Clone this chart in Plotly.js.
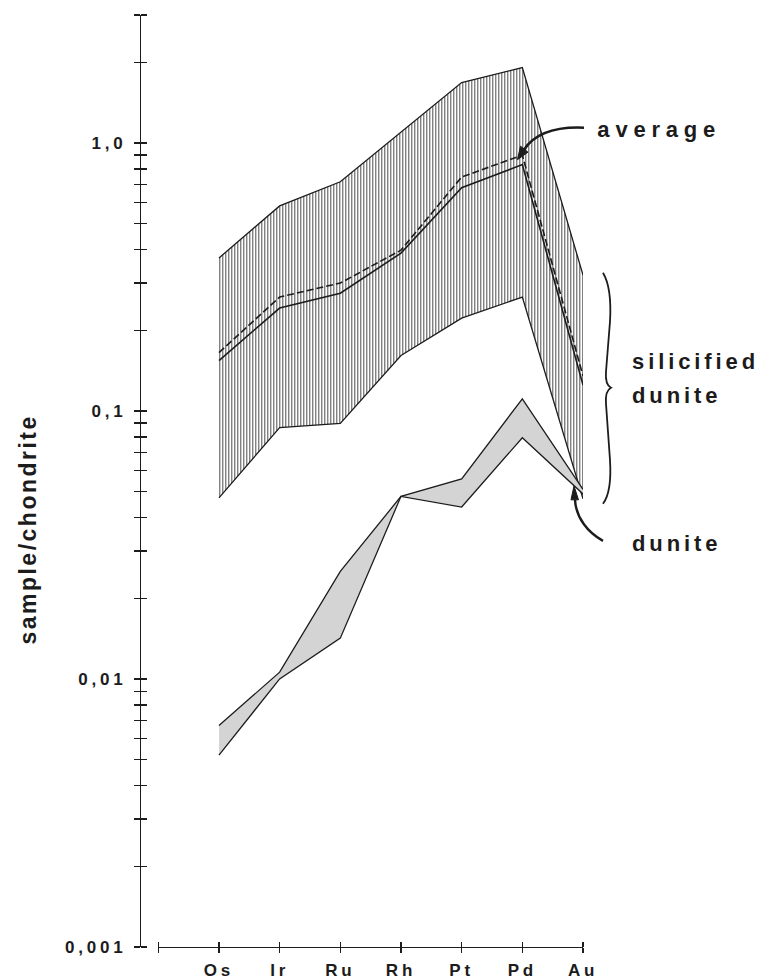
<!DOCTYPE html>
<html>
<head>
<meta charset="utf-8">
<script src="https://cdn.plot.ly/plotly-3.0.1.min.js"></script>
<style>
  body { margin: 0; background: #fff; }
  #chart { width: 759px; height: 980px; }
  .xtick text, .ytick text { letter-spacing: 3.8px; }
  .annotation-text { letter-spacing: 3.9px; }
  g.annotation[data-index="0"] .annotation-text { letter-spacing: 2.5px; }
  g.annotation[data-index="1"] .annotation-text { letter-spacing: 5.8px; }
</style>
</head>
<body>
<div id="chart"></div>
<script>
// PGE + Au chondrite-normalised patterns
const elements = ['Os', 'Ir', 'Ru', 'Rh', 'Pt', 'Pd', 'Au'];

// silicified dunite: envelope of all samples
const silicifiedMax = [0.372, 0.582, 0.716, 1.10, 1.68, 1.91, 0.321];
const silicifiedMin = [0.0474, 0.0867, 0.0898, 0.161, 0.222, 0.266, 0.047];

// silicified dunite: average patterns
const averageSolid = [0.154, 0.242, 0.275, 0.388, 0.68, 0.83, 0.125];
const averageDashed = [0.165, 0.266, 0.30, 0.398, 0.746, 0.90, 0.135];

// dunite envelope
const duniteMax = [0.0067, 0.0106, 0.0252, 0.048, 0.0558, 0.111, 0.051];
const duniteMin = [0.0052, 0.0100, 0.0142, 0.048, 0.0438, 0.0794, 0.049];

// axis ticks
const xTickVals = [-1, 0, 1, 2, 3, 4, 5, 6];
const xTickText = [''].concat(elements);
const yMajorVals = [0.001, 0.01, 0.1, 1];
const yMajorText = ['0,001', '0,01', '0,1', '1,0'];
const yMinorVals = [0.002, 0.003, 0.004, 0.005, 0.006, 0.007, 0.008, 0.009,
                    0.02, 0.03, 0.04, 0.05, 0.06, 0.07, 0.08, 0.09,
                    0.2, 0.3, 0.4, 0.5, 0.6, 0.7, 0.8, 0.9,
                    2, 3];

const xIdx = elements.map((_, i) => i);
const yTickVals = yMajorVals.concat(yMinorVals);
const yTickText = yMajorText.concat(yMinorVals.map(() => ''));

const ink = '#1c1c1c';
const FONT = 'Liberation Sans, Arial, Helvetica, sans-serif';

function band(upper, lower) {
  return {
    x: xIdx.concat(xIdx.slice().reverse()),
    y: upper.concat(lower.slice().reverse())
  };
}

const sil = band(silicifiedMax, silicifiedMin);
const dun = band(duniteMax, duniteMin);

const traces = [
  // hatched silicified dunite field
  { x: sil.x, y: sil.y, mode: 'lines', fill: 'toself', line: { width: 0 },
    fillcolor: '#ffffff',
    fillpattern: { shape: '|', size: 3, solidity: 0.33, fgcolor: '#4a4a4a', bgcolor: '#ffffff', fillmode: 'replace' },
    hoverinfo: 'skip' },
  { x: xIdx, y: silicifiedMax, mode: 'lines', line: { color: ink, width: 1.3 }, hoverinfo: 'skip' },
  { x: xIdx, y: silicifiedMin, mode: 'lines', line: { color: ink, width: 1.3 }, hoverinfo: 'skip' },

  // dunite field
  { x: dun.x, y: dun.y, mode: 'lines', fill: 'toself', line: { width: 0 },
    fillcolor: '#d4d4d4', xaxis: 'x2', yaxis: 'y2', hoverinfo: 'skip' },
  { x: xIdx, y: duniteMax, mode: 'lines', line: { color: ink, width: 1.3 }, xaxis: 'x2', yaxis: 'y2', hoverinfo: 'skip' },
  { x: xIdx, y: duniteMin, mode: 'lines', line: { color: ink, width: 1.3 }, xaxis: 'x2', yaxis: 'y2', hoverinfo: 'skip' },

  // average patterns
  { x: xIdx, y: averageSolid, mode: 'lines', line: { color: ink, width: 1.6 }, xaxis: 'x2', yaxis: 'y2', hoverinfo: 'skip' },
  { x: xIdx, y: averageDashed, mode: 'lines', line: { color: ink, width: 1.6, dash: '7px,3px' }, xaxis: 'x2', yaxis: 'y2', hoverinfo: 'skip' }
];

// pixel -> paper helpers for the hand-drawn labels, arrows and brace
const L = 140, R = 583, T = 15.4, B = 947;
const px = x => (x - L) / (R - L);
const py = y => (B - y) / (B - T);
const P = (x, y) => px(x).toFixed(4) + ',' + py(y).toFixed(4);

const yRange = [-3, Math.log10(3)];
const tickFont = { family: FONT, size: 17, color: ink, weight: 'bold' };
const labelFont = { family: FONT, size: 22, color: ink, weight: 'bold' };

const layout = {
  width: 759, height: 980,
  margin: { l: L, r: 759 - R, t: T, b: 980 - B, pad: 0 },
  paper_bgcolor: '#ffffff', plot_bgcolor: 'rgba(0,0,0,0)',
  showlegend: false,
  xaxis: {
    domain: [px(158.3), 1], range: [-1, 6],
    tickmode: 'array', tickvals: xTickVals, ticktext: xTickText,
    ticks: 'outside', ticklen: 5, tickwidth: 1.4, tickcolor: ink,
    showline: true, linecolor: ink, linewidth: 1.4,
    showgrid: false, zeroline: false, tickfont: { family: FONT, size: 17, color: ink, weight: 'bold' },
    ticklabelstandoff: 2, fixedrange: true
  },
  // upward half of the crossing x ticks
  xaxis2: {
    overlaying: 'x', side: 'top', anchor: 'free', position: 0, range: [-1, 6],
    tickmode: 'array', tickvals: xTickVals,
    ticks: 'outside', ticklen: 5, tickwidth: 1.4, tickcolor: ink,
    showticklabels: false, showline: false, showgrid: false, zeroline: false, fixedrange: true
  },
  yaxis: {
    type: 'log', range: yRange, anchor: 'free', position: 0,
    tickmode: 'array', tickvals: yTickVals, ticktext: yTickText,
    ticks: 'outside', ticklen: 6, tickwidth: 1.4, tickcolor: ink,
    showline: true, linecolor: ink, linewidth: 1.4,
    showgrid: false, zeroline: false, tickfont: tickFont,
    ticklabelstandoff: 4, fixedrange: true
  },
  // rightward half of the crossing y ticks
  yaxis2: {
    type: 'log', range: yRange, overlaying: 'y', side: 'right', anchor: 'free', position: 0,
    tickmode: 'array', tickvals: yTickVals,
    ticks: 'outside', ticklen: 6, tickwidth: 1.4, tickcolor: ink,
    showticklabels: false, showline: false, showgrid: false, zeroline: false, fixedrange: true
  },
  annotations: [
    { text: 'sample/chondrite', textangle: -90, xref: 'paper', yref: 'paper',
      x: px(28), y: py(530), xanchor: 'center', yanchor: 'middle', showarrow: false,
      font: { family: FONT, size: 23, color: ink, weight: 'bold' } },
    { text: 'average', xref: 'paper', yref: 'paper', x: px(602), y: py(130),
      xanchor: 'left', yanchor: 'middle', showarrow: false, font: labelFont },
    { text: 'silicified', xref: 'paper', yref: 'paper', x: px(630), y: py(362),
      xanchor: 'left', yanchor: 'middle', showarrow: false, font: labelFont },
    { text: 'dunite', xref: 'paper', yref: 'paper', x: px(630), y: py(396),
      xanchor: 'left', yanchor: 'middle', showarrow: false, font: labelFont },
    { text: 'dunite', xref: 'paper', yref: 'paper', x: px(630), y: py(544),
      xanchor: 'left', yanchor: 'middle', showarrow: false, font: labelFont }
  ],
  shapes: [
    // curved pointer to the average pattern
    { type: 'path', xref: 'paper', yref: 'paper', layer: 'above',
      path: 'M ' + P(584, 128) + ' C ' + P(560, 127) + ' ' + P(536, 132) + ' ' + P(524, 150),
      line: { color: ink, width: 2.6 } },
    { type: 'path', xref: 'paper', yref: 'paper', layer: 'above',
      path: 'M ' + P(517.5, 160) + ' L ' + P(528, 152.5) + ' L ' + P(520.5, 146.5) + ' Z',
      fillcolor: ink, line: { color: ink, width: 1 } },
    // curved pointer to the dunite field
    { type: 'path', xref: 'paper', yref: 'paper', layer: 'above',
      path: 'M ' + P(603, 541) + ' C ' + P(588, 533) + ' ' + P(576, 518) + ' ' + P(575, 500),
      line: { color: ink, width: 2.4 } },
    { type: 'path', xref: 'paper', yref: 'paper', layer: 'above',
      path: 'M ' + P(574, 486) + ' L ' + P(578.5, 500) + ' L ' + P(571, 500) + ' Z',
      fillcolor: ink, line: { color: ink, width: 1 } },
    // brace for the silicified dunite field
    { type: 'path', xref: 'paper', yref: 'paper', layer: 'above',
      path: 'M ' + P(603, 273) + ' Q ' + P(612, 288) + ' ' + P(610, 322) +
            ' L ' + P(606, 372) + ' Q ' + P(605, 385) + ' ' + P(611, 388) +
            ' Q ' + P(605, 391) + ' ' + P(606, 404) + ' L ' + P(610, 460) +
            ' Q ' + P(612, 492) + ' ' + P(603, 504),
      line: { color: ink, width: 1.8 } }
  ]
};

Plotly.newPlot('chart', traces, layout, { displayModeBar: false, staticPlot: true });
</script>
</body>
</html>
